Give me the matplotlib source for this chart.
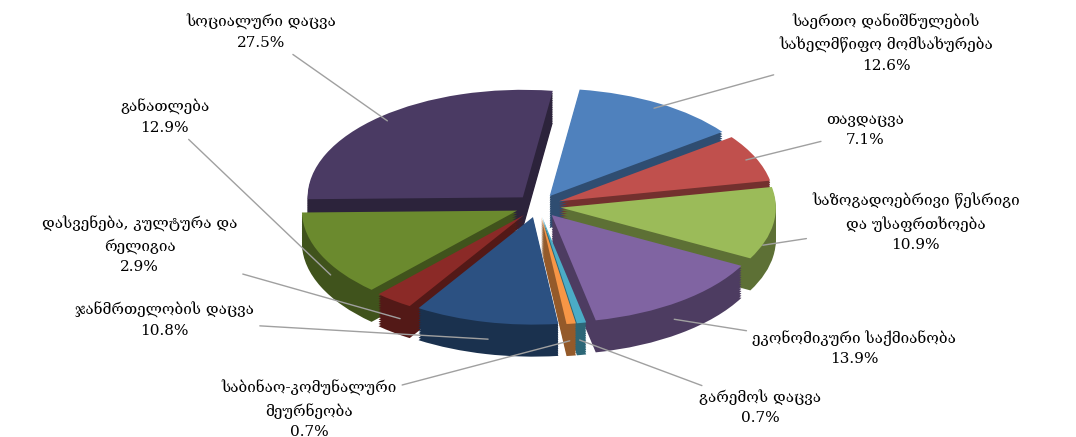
import numpy as np
import matplotlib
matplotlib.use("Agg")
import matplotlib.pyplot as plt
from matplotlib.transforms import Affine2D
import matplotlib.colors as mc

labels = ["საერთო დანიშნულების\nსახელმწიფო მომსახურება", "თავდაცვა",
          "საზოგადოებრივი წესრიგი\nდა უსაფრთხოება", "ეკონომიკური საქმიანობა",
          "გარემოს დაცვა", "საბინაო-კომუნალური\nმეურნეობა", "ჯანმრთელობის დაცვა",
          "დასვენება, კულტურა და\nრელიგია", "განათლება", "სოციალური დაცვა"]
values = [12.6, 7.1, 10.9, 13.9, 0.7, 0.7, 10.8, 2.9, 12.9, 27.5]
colors = ["#4F81BD", "#C0504D", "#9BBB59", "#8064A2", "#4BACC6", "#F79646",
          "#2C5182", "#8B2A27", "#6B8A2E", "#4A3A63"]
text_pos = [(1.52, 0.71), (1.43, 0.33), (1.65, -0.07), (1.38, -0.62), (0.97, -0.88),
            (-1.0, -0.89), (-1.63, -0.50), (-1.74, -0.17), (-1.63, 0.39), (-1.21, 0.76)]

plt.rcParams['font.family'] = ['DejaVu Serif', 'DejaVu Sans']
fig = plt.figure(figsize=(10.76, 4.37), dpi=100)
ax = fig.add_axes([0, 0, 1, 1])

sq = 0.5
depth = 0.14
explode = [0.1] * len(values)
start = 82
R = 0.94

def darker(c, f):
    r, g, b = mc.to_rgb(c)
    return (r * f, g * f, b * f)

steps = 14
for i in range(steps, -1, -1):
    d = depth * i / steps
    top = (i == 0)
    wedges, _ = ax.pie(values, startangle=start, counterclock=False, explode=explode,
                       colors=[c if top else darker(c, 0.6) for c in colors],
                       radius=R, frame=True,
                       wedgeprops=dict(linewidth=0))
    for w in wedges:
        w.set_transform(Affine2D().scale(1, sq).translate(0, -d) + ax.transData)
ax.set_xlim(-2.35, 2.35)
ax.set_ylim(-1.01, 0.90)
ax.set_aspect('auto')
ax.axis('off')

cum = 0
for lab, v, (tx, ty) in zip(labels, values, text_pos):
    mid = np.deg2rad(start - (cum + v / 2) * 3.6)
    cum += v
    r = R * 0.95 + 0.1
    px, py = r * np.cos(mid), r * np.sin(mid) * sq
    if py < 0:
        py -= depth * 0.7
    ax.annotate(f"{lab}\n{v}%", xy=(px, py), xytext=(tx, ty), ha='center', va='center',
                fontsize=11, linespacing=1.55,
                arrowprops=dict(arrowstyle='-', color='#A0A0A0', lw=1, shrinkA=2, shrinkB=0))
fig.savefig("out.png", dpi=100)
